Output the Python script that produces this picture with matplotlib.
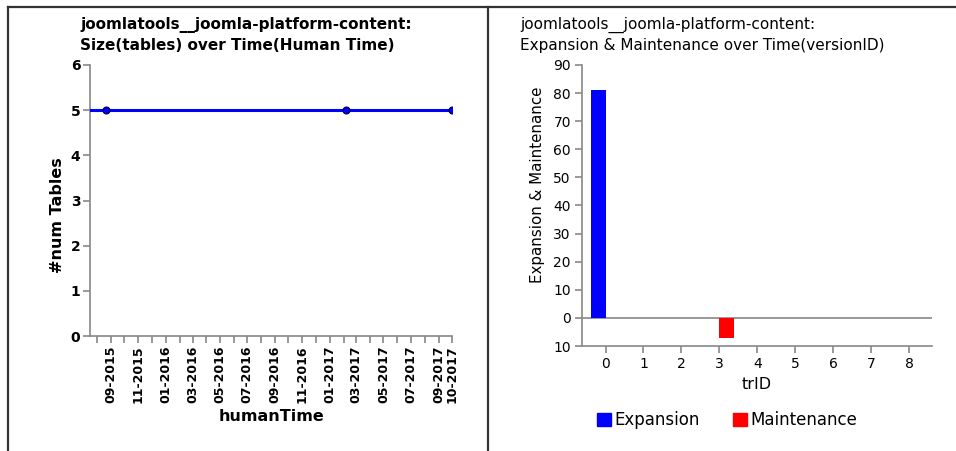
import matplotlib
matplotlib.use("Agg")
import matplotlib.pyplot as plt
from matplotlib.lines import Line2D
from matplotlib.patches import Patch
import numpy as np
import pandas as pd

# ---------------- data ----------------
left_title = "joomlatools__joomla-platform-content:\nSize(tables) over Time(Human Time)"
right_title = "joomlatools__joomla-platform-content:\nExpansion & Maintenance over Time(versionID)"

human_dates = ["2015-07-16", "2015-08-21", "2017-02-07", "2017-10-01"]
num_tables = [5, 5, 5, 5]

month_ticks = ["2015-08", "2015-09", "2015-10", "2015-11", "2015-12", "2016-01", "2016-02",
               "2016-03", "2016-04", "2016-05", "2016-06", "2016-07", "2016-08", "2016-09",
               "2016-10", "2016-11", "2016-12", "2017-01", "2017-02", "2017-03", "2017-04",
               "2017-05", "2017-06", "2017-07", "2017-08", "2017-09", "2017-10"]
month_labels = ["", "09-2015", "", "11-2015", "", "01-2016", "", "03-2016", "", "05-2016", "",
                "07-2016", "", "09-2016", "", "11-2016", "", "01-2017", "", "03-2017", "",
                "05-2017", "", "07-2017", "", "09-2017", "10-2017"]
left_yticks = [0, 1, 2, 3, 4, 5, 6]

tr_ids = [0, 1, 2, 3, 4, 5, 6, 7, 8]
expansion = [81, 0, 0, 0, 0, 0, 0, 0, 0]
maintenance = [0, 0, 0, 7, 0, 0, 0, 0, 0]
right_yticks = [-10, 0, 10, 20, 30, 40, 50, 60, 70, 80, 90]
right_yticklabels = ["10", "0", "10", "20", "30", "40", "50", "60", "70", "80", "90"]

# ---------------- figure ----------------
W, H = 956, 451
fig = plt.figure(figsize=(W / 100, H / 100), dpi=100)
plt.rcParams['font.family'] = ['DejaVu Sans']

def fx(px):
    return px / W

def fy(py):
    return 1 - py / H

# borders
border_col = "#333333"
fig.add_artist(Line2D([fx(8), 1], [fy(7), fy(7)], color=border_col, lw=1.6, transform=fig.transFigure))
fig.add_artist(Line2D([fx(8), fx(8)], [0, fy(7)], color=border_col, lw=1.6, transform=fig.transFigure))
fig.add_artist(Line2D([fx(487.5), fx(487.5)], [0, fy(7)], color=border_col, lw=1.6, transform=fig.transFigure))

spine_col = "#888888"

# ---------------- left chart ----------------
axL = fig.add_axes([fx(90), fy(336), fx(452) - fx(90), fy(65) - fy(336)])
d = pd.to_datetime(human_dates)
axL.plot(d, num_tables, color="#0000ff", lw=2.2, marker="o", markersize=5, markevery=[1, 2, 3],
         markerfacecolor="#0000ff", markeredgecolor="#000044", markeredgewidth=0.8, zorder=3)
axL.set_xlim(d[0], d[-1])
axL.set_ylim(0, 6)
axL.set_yticks(left_yticks)
axL.set_yticklabels([str(v) for v in left_yticks], fontweight="bold", fontsize=10)
mt = pd.to_datetime(month_ticks)
axL.set_xticks(mt)
axL.set_xticklabels(month_labels, rotation=90, fontweight="bold", fontsize=9)
for s in ["top", "right"]:
    axL.spines[s].set_visible(False)
for s in ["left", "bottom"]:
    axL.spines[s].set_color(spine_col)
    axL.spines[s].set_linewidth(1.2)
axL.tick_params(axis="both", colors="#000000", length=5, width=1.2, pad=2)
axL.tick_params(axis="both", color=spine_col)
axL.set_xlabel("humanTime", fontweight="bold", fontsize=11.5, labelpad=4)
axL.set_ylabel("#num Tables", fontweight="bold", fontsize=11.5)
axL.yaxis.set_label_coords(-0.069, 0.446)
fig.text(fx(80), fy(17), left_title, fontweight="bold", fontsize=11, va="top", ha="left",
         linespacing=1.4)

# ---------------- right chart ----------------
axR = fig.add_axes([fx(582), fy(346), fx(932) - fx(582), fy(65) - fy(346)])
x = np.array(tr_ids, dtype=float)
bw = 0.38
axR.bar(x - bw / 2, expansion, width=bw, color="#0000ff", label="Expansion", zorder=3)
axR.bar(x + bw / 2, -np.array(maintenance), width=bw, color="#ff0000", label="Maintenance", zorder=3)
axR.axhline(0, color=spine_col, lw=1.2, zorder=2)
axR.set_xlim(-0.62, 8.6)
axR.set_ylim(-10, 90)
axR.set_yticks(right_yticks)
axR.set_yticklabels(right_yticklabels, fontsize=10)
axR.set_xticks(tr_ids)
axR.set_xticklabels([str(t) for t in tr_ids], fontsize=10)
for s in ["top", "right"]:
    axR.spines[s].set_visible(False)
for s in ["left", "bottom"]:
    axR.spines[s].set_color(spine_col)
    axR.spines[s].set_linewidth(1.2)
axR.tick_params(axis="both", colors="#000000", length=5, width=1.2, pad=3)
axR.tick_params(axis="both", color=spine_col)
axR.set_xlabel("trID", fontsize=11.5, labelpad=4)
axR.set_ylabel("Expansion & Maintenance", fontsize=10.8)
axR.yaxis.set_label_coords(-0.106, 0.573)
fig.text(fx(520), fy(17), right_title, fontsize=11, va="top", ha="left", linespacing=1.4)

handles = [Patch(color="#0000ff", label="Expansion"), Patch(color="#ff0000", label="Maintenance")]
fig.legend(handles=handles, loc="center", bbox_to_anchor=(fx(727), fy(420)), ncol=2,
           frameon=False, fontsize=12, handlelength=0.85, handleheight=0.85,
           handletextpad=0.2, columnspacing=2.0, borderaxespad=0)

fig.savefig("out.png", dpi=100)
